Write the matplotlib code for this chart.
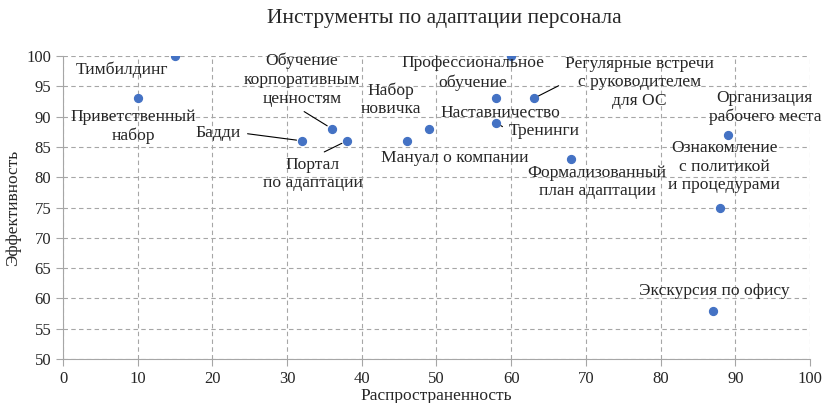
import matplotlib
matplotlib.use("Agg")
import matplotlib.pyplot as plt

plt.rcParams['font.family'] = ['Liberation Serif', 'DejaVu Serif']

labels = ["Тимбилдинг", "Приветственный\nнабор", "Бадди",
          "Обучение\nкорпоративным\nценностям", "Портал\nпо адаптации",
          "Мануал о компании", "Набор\nновичка", "Профессиональное\nобучение",
          "Наставничество", "Тренинги", "Регулярные встречи\nс руководителем\nдля ОС",
          "Формализованный\nплан адаптации", "Организация\nрабочего места",
          "Ознакомление\nс политикой\nи процедурами", "Экскурсия по офису"]
prevalence = [15, 10, 32, 36, 38, 46, 49, 60, 58, 58, 63, 68, 89, 88, 87]
effectiveness = [100, 93, 86, 88, 86, 86, 88, 100, 93, 89, 93, 83, 87, 75, 58]

# label offsets in pixels (dx, dy); leader line anchor on the text box (or None)
offsets = [(-53, -14), (-4, -28), (-84, 8), (-30, 49), (-34, -33), (48, -17),
           (-38, 29), (-38, -17), (4, -15), (48, -8), (106, 16), (26, -23),
           (37, 27), (4, 41), (1, 20)]
leaders = [None, None, (1.0, 0.5), (0.45, 0.0), (0.52, 1.0), None, None, None,
           None, (0.0, 0.5), (0.0, 0.5), None, None, None, None]

fig = plt.figure(figsize=(8.27, 4.03), dpi=100)
ax = fig.add_axes([0.0762, 0.1092, 0.9032, 0.7518])

ax.scatter(prevalence, effectiveness, s=32, color='#4472C4', zorder=3)

for lab, x, y, (dx, dy), ld in zip(labels, prevalence, effectiveness, offsets, leaders):
    kw = {}
    if ld is not None:
        kw['arrowprops'] = dict(arrowstyle='-', color='black', lw=0.8,
                                shrinkA=3, shrinkB=4, relpos=ld)
    ax.annotate(lab, (x, y), xytext=(dx, dy), textcoords='offset pixels',
                ha='center', va='center', fontsize=12.6, color='#262626',
                linespacing=1.22, zorder=4, **kw)

ax.set_xlim(0, 100)
ax.set_ylim(50, 100)
ax.set_xticks(range(0, 101, 10))
ax.set_yticks(range(50, 101, 5))
ax.grid(True, linestyle=(0, (4, 3)), color='#a6a6a6', lw=0.8)
ax.set_axisbelow(True)
for s in ['top', 'right']:
    ax.spines[s].set_visible(False)
for s in ['left', 'bottom']:
    ax.spines[s].set_color('#a6a6a6')
ax.tick_params(axis='both', colors='#a6a6a6', labelcolor='#262626',
               labelsize=12, length=5)
ax.set_xlabel("Распространенность", fontsize=12.5, color='#262626', labelpad=1)
ax.set_ylabel("Эффективность", fontsize=12.5, color='#262626', labelpad=4)
fig.text(0.537, 0.955, "Инструменты по адаптации персонала", fontsize=15.5,
         color='#262626', ha='center', va='center')

fig.savefig("out.png", dpi=100)
